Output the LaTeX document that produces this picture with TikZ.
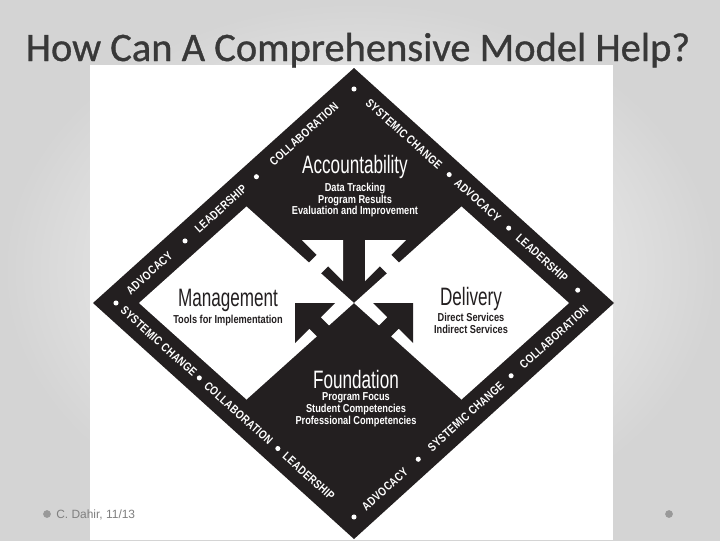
\documentclass[tikz,border=0pt]{standalone}
\usepackage{fontspec}
\usepackage{tikz}
\usetikzlibrary{positioning}
\setmainfont{Liberation Sans}
\newfontfamily\titlefont[FakeBold=0.8]{Carlito}
\newfontfamily\headfont[FakeStretch=0.68]{Liberation Sans}
\newfontfamily\subfont[FakeStretch=0.8]{Liberation Sans}
\newfontfamily\bandfont[FakeStretch=0.8,LetterSpace=3]{Liberation Sans}
\definecolor{ink}{HTML}{231F20}
\definecolor{titlegray}{HTML}{383838}
\definecolor{footgray}{HTML}{7F7F7F}

\begin{document}
\begin{tikzpicture}[x=0.025cm,y=-0.025cm]
  \tikzstyle{headtxt}=[inner sep=0pt,anchor=base,font=\headfont\fontsize{17.9}{18}\selectfont]
  \tikzstyle{subtxt}=[inner sep=0pt,align=center,font=\subfont\bfseries\fontsize{8.2}{8.3}\selectfont]
  \tikzstyle{bandtxt}=[inner sep=0pt,sloped,text=white,font=\bandfont\bfseries\fontsize{8.5}{9}\selectfont]
  \tikzstyle{banddot}=[circle,fill=white,inner sep=0pt,minimum size=3.6pt]
  \tikzstyle{footdot}=[circle,fill=footgray!80,inner sep=0pt,minimum size=5.5pt]

  \useasboundingbox (0,0) rectangle (720,540);
  \shade[inner color=white,outer color=black!17] (0,0) rectangle (720,540);
  \fill[white] (90,65) rectangle (613,540);

  \node[anchor=base,inner sep=0pt,text=titlegray,
        font=\titlefont\fontsize{28.8}{30}\selectfont] (title) at (358,61)
        {How Can A Comprehensive Model Help?};

  % diamond and the two white squares
  \coordinate (oT) at (354,68);   \coordinate (oR) at (614,303);
  \coordinate (oB) at (354,539);  \coordinate (oL) at (93,303);
  \coordinate (C)  at (354,303);
  \coordinate (mT) at (354,89);   \coordinate (mR) at (592,303);
  \coordinate (mB) at (354,517);  \coordinate (mL) at (116,303);
  \fill[ink] (oT) -- (oR) -- (oB) -- (oL) -- cycle;
  \fill[white] (139,303) -- (246.5,206.5) -- (C) -- (246.5,399.5) -- cycle;
  \fill[white] (C) -- (461.5,206.5) -- (569,303) -- (461.5,399.5) -- cycle;

  % arrows in the middle
  \foreach \s in {1,-1}{
    \begin{scope}[shift={(C)},xscale=\s]
      \fill[white] (-52,-63) -- (-11,-63) -- (-11,-22) -- (-25.8,-36.8)
        -- (-50.3,-12.3) -- (-61.7,-23.7) -- (-37.2,-48.2) -- cycle;
      \fill[ink] (-59,0) -- (-19,0) -- (-33.34,14.34) -- (1.66,49.34)
        -- (-9.66,60.66) -- (-44.66,25.66) -- (-59,40) -- cycle;
    \end{scope}
  }

  % the four parts
  \node[headtxt,text=white] (acc) at (355,173) {Accountability};
  \node[subtxt,text=white,below=3pt of acc] (accsub)
    {Data Tracking\\Program Results\\Evaluation and Improvement};
  \node[headtxt,text=ink] (man) at (228,306) {Management};
  \node[subtxt,text=ink,below=2.5pt of man] (mansub) {Tools for Implementation};
  \node[headtxt,text=ink] (del) at (471,305) {Delivery};
  \node[subtxt,text=ink,below=2pt of del] (delsub) {Direct Services\\Indirect Services};
  \node[headtxt,text=white] (fou) at (356,388) {Foundation};
  \node[subtxt,text=white,below=3pt of fou] (fousub)
    {Program Focus\\Student Competencies\\Professional Competencies};

  % words round the border
  \path (mL) -- (mT)
    node[banddot,pos=0] (ul0) {}
    node[bandtxt,pos=0.14] (ul1) {ADVOCACY}
    node[banddot,pos=0.29] (ul2) {}
    node[bandtxt,pos=0.44] (ul3) {LEADERSHIP}
    node[banddot,pos=0.59] (ul4) {}
    node[bandtxt,pos=0.79] (ul5) {COLLABORATION}
    node[banddot,pos=1] (ul6) {};
  \path (mT) -- (mR)
    node[bandtxt,pos=0.21] (ur1) {SYSTEMIC CHANGE}
    node[banddot,pos=0.40] (ur2) {}
    node[bandtxt,pos=0.52] (ur3) {ADVOCACY}
    node[banddot,pos=0.65] (ur4) {}
    node[bandtxt,pos=0.79] (ur5) {LEADERSHIP}
    node[banddot,pos=0.94] (ur6) {};
  \path (mL) -- (mB)
    node[bandtxt,pos=0.18] (ll1) {SYSTEMIC CHANGE}
    node[banddot,pos=0.35] (ll2) {}
    node[bandtxt,pos=0.515] (ll3) {COLLABORATION}
    node[banddot,pos=0.68] (ll4) {}
    node[bandtxt,pos=0.81] (ll5) {LEADERSHIP};
  \path (mB) -- (mR)
    node[banddot,pos=0] (lr0) {}
    node[bandtxt,pos=0.13] (lr1) {ADVOCACY}
    node[banddot,pos=0.27] (lr2) {}
    node[bandtxt,pos=0.47] (lr3) {SYSTEMIC CHANGE}
    node[banddot,pos=0.66] (lr4) {}
    node[bandtxt,pos=0.84] (lr5) {COLLABORATION};

  % footer
  \node[footdot] (fdl) at (47,514) {};
  \node[anchor=base west,inner sep=0pt,text=footgray,
        font=\fontsize{8.5}{9}\selectfont] (foot) at (56,518) {C. Dahir, 11/13};
  \node[footdot] (fdr) at (669,514) {};
\end{tikzpicture}
\end{document}
